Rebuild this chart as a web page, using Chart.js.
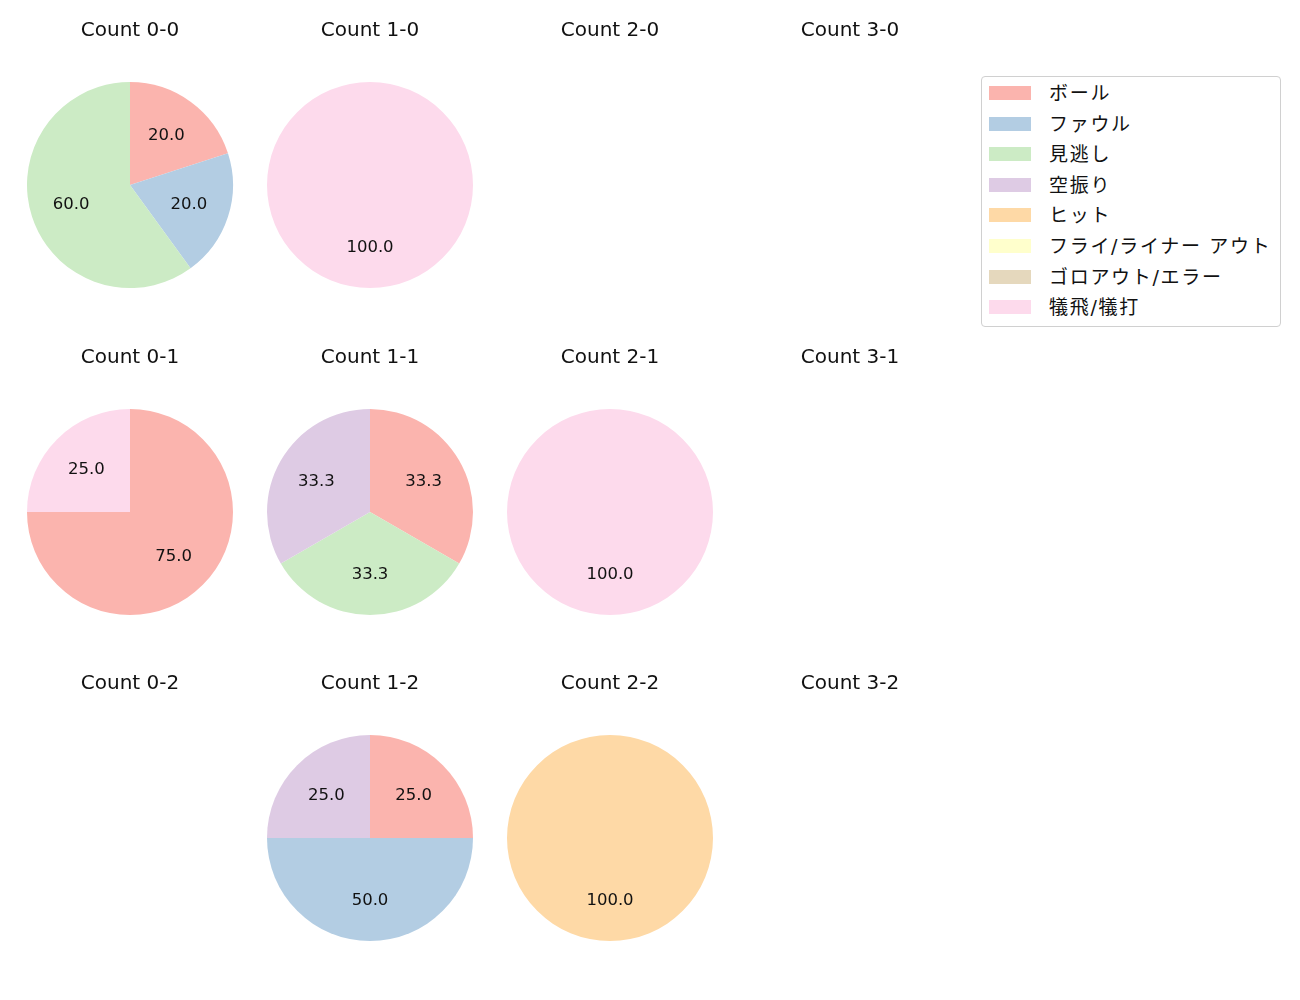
<!DOCTYPE html>
<html>
<head>
<meta charset="utf-8">
<script src="https://cdn.jsdelivr.net/npm/chart.js@4.4.1/dist/chart.umd.min.js"></script>
<style>
  body { margin: 0; background: #fff; }
  #wrap { position: relative; width: 1300px; height: 1000px; font-family: "DejaVu Sans", "Noto Sans CJK JP", sans-serif; }
  .cell { position: absolute; width: 240px; height: 288px; }
  #legend {
    position: absolute; left: 981px; top: 76px; width: 298px; height: 249px;
    border: 1px solid #d0d0d0; border-radius: 4px; background: #fff;
  }
  .item { position: absolute; left: 0; height: 20px; font-size: 19px; color: #111; }
  .item span.sw { position: absolute; left: 7px; top: 2px; width: 42px; height: 14px; }
  .item span.tx { position: absolute; left: 67px; top: -6px; white-space: nowrap; letter-spacing: 1.7px; }
</style>
</head>
<body>
<div id="wrap"><div id="legend"></div></div>
<script>
// categories (legend order)
const categories = ['ボール', 'ファウル', '見逃し', '空振り', 'ヒット', 'フライ/ライナー アウト', 'ゴロアウト/エラー', '犠飛/犠打'];
const colors = ['#fbb4ae', '#b3cde3', '#ccebc5', '#decbe4', '#fed9a6', '#ffffcc', '#e5d8bd', '#fddaec'];

// counts per ball-strike situation (pitch results)
const count00 = [1, 1, 3, 0, 0, 0, 0, 0];
const count10 = [0, 0, 0, 0, 0, 0, 0, 1];
const count20 = [];
const count30 = [];
const count01 = [3, 0, 0, 0, 0, 0, 0, 1];
const count11 = [1, 0, 1, 1, 0, 0, 0, 0];
const count21 = [0, 0, 0, 0, 0, 0, 0, 1];
const count31 = [];
const count02 = [];
const count12 = [1, 2, 0, 1, 0, 0, 0, 0];
const count22 = [0, 0, 0, 0, 1, 0, 0, 0];
const count32 = [];

const panels = [
  ['Count 0-0', count00], ['Count 1-0', count10], ['Count 2-0', count20], ['Count 3-0', count30],
  ['Count 0-1', count01], ['Count 1-1', count11], ['Count 2-1', count21], ['Count 3-1', count31],
  ['Count 0-2', count02], ['Count 1-2', count12], ['Count 2-2', count22], ['Count 3-2', count32]
];

const FONT = '"DejaVu Sans", "Noto Sans CJK JP", sans-serif';

// percentage labels at 0.6 of radius, like matplotlib autopct
const pctLabels = {
  id: 'pctLabels',
  afterDatasetsDraw(chart) {
    const meta = chart.getDatasetMeta(0);
    const data = chart.data.datasets[0].data;
    const total = data.reduce((a, b) => a + b, 0);
    if (!total) return;
    const ctx = chart.ctx;
    ctx.save();
    ctx.font = '16.5px ' + FONT;
    ctx.fillStyle = '#111';
    ctx.textAlign = 'center';
    ctx.textBaseline = 'middle';
    meta.data.forEach((arc, i) => {
      if (!data[i]) return;
      const mid = (arc.startAngle + arc.endAngle) / 2;
      const r = arc.outerRadius * 0.6;
      const x = arc.x + Math.cos(mid) * r;
      const y = arc.y + Math.sin(mid) * r + 1;
      ctx.fillText((data[i] / total * 100).toFixed(1), x, y);
    });
    ctx.restore();
  }
};

const wrap = document.getElementById('wrap');
panels.forEach((p, k) => {
  const col = k % 4, row = Math.floor(k / 4);
  const div = document.createElement('div');
  div.className = 'cell';
  div.style.left = (129.5 + col * 240 - 120) + 'px';
  div.style.top = (row * 326.7) + 'px';
  const cv = document.createElement('canvas');
  div.appendChild(cv);
  wrap.appendChild(div);

  new Chart(cv, {
    type: 'pie',
    data: {
      labels: categories,
      datasets: [{
        data: p[1],
        backgroundColor: colors,
        borderWidth: 0,
        hoverOffset: 0,
        offset: 0
      }]
    },
    options: {
      responsive: true,
      maintainAspectRatio: false,
      animation: false,
      events: [],
      layout: { padding: 0 },
      plugins: {
        legend: { display: false },
        tooltip: { enabled: false },
        title: {
          display: true,
          text: p[0],
          color: '#111',
          font: { family: FONT, size: 20, weight: 'normal', lineHeight: 1.2 },
          padding: { top: 18.5, bottom: 39.5 }
        }
      }
    },
    plugins: [pctLabels]
  });
});

// legend
const legend = document.getElementById('legend');
categories.forEach((c, i) => {
  const it = document.createElement('div');
  it.className = 'item';
  it.style.top = (7 + i * 30.6) + 'px';
  it.innerHTML = '<span class="sw" style="background:' + colors[i] + '"></span><span class="tx">' + c + '</span>';
  legend.appendChild(it);
});
</script>
</body>
</html>
